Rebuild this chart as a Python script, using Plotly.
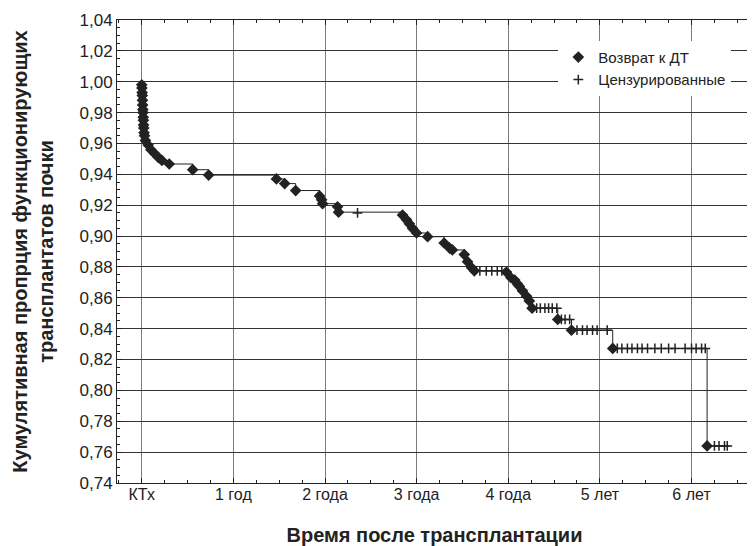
from plotly.graph_objects import Figure, Scatter

# время в годах после трансплантации и доля функционирующих трансплантатов
event_t = [0.000, 0.002, 0.004, 0.006, 0.008, 0.010, 0.012, 0.014, 0.016, 0.018,
           0.020, 0.022, 0.025, 0.030, 0.04, 0.07, 0.10, 0.14, 0.18, 0.22, 0.30,
           0.556, 0.73, 1.47, 1.56, 1.68, 1.94, 1.963, 1.974, 2.137, 2.148,
           2.846, 2.89, 2.92, 2.955, 3.00, 3.12, 3.30, 3.36, 3.39, 3.52, 3.555,
           3.60, 3.63, 3.98, 4.03, 4.07, 4.10, 4.12, 4.155, 4.20, 4.23, 4.26,
           4.54, 4.69, 5.14, 6.17]
event_s = [0.998, 0.996, 0.993, 0.991, 0.988, 0.985, 0.982, 0.980, 0.977, 0.975,
           0.972, 0.970, 0.967, 0.965, 0.962, 0.959, 0.956, 0.9535, 0.951, 0.949, 0.9467,
           0.943, 0.9395, 0.937, 0.934, 0.9295, 0.926, 0.9235, 0.921, 0.919, 0.9155,
           0.9136, 0.9105, 0.908, 0.905, 0.902, 0.8996, 0.8955, 0.8922, 0.891, 0.888, 0.8834,
           0.8795, 0.8775, 0.8767, 0.873, 0.8715, 0.869, 0.8675, 0.8645, 0.861, 0.858, 0.8533,
           0.846, 0.839, 0.8272, 0.764]

cens_t = [2.355, 3.69, 3.76, 3.82, 3.88, 3.93,
          4.31, 4.35, 4.40, 4.44, 4.48, 4.53, 4.58, 4.62, 4.67,
          4.75, 4.81, 4.86, 4.92, 4.97, 5.08,
          5.19, 5.24, 5.30, 5.35, 5.41, 5.46, 5.52, 5.60, 5.67, 5.75, 5.82,
          5.93, 6.00, 6.05, 6.11, 6.15, 6.25, 6.30, 6.36, 6.39]
cens_s = [0.915, 0.8775, 0.8775, 0.8775, 0.8775, 0.8775,
          0.8533, 0.8533, 0.8533, 0.8533, 0.8533, 0.8533, 0.846, 0.846, 0.846,
          0.839, 0.839, 0.839, 0.839, 0.839, 0.839,
          0.8272, 0.8272, 0.8272, 0.8272, 0.8272, 0.8272, 0.8272, 0.8272, 0.8272, 0.8272, 0.8272,
          0.8272, 0.8272, 0.8272, 0.8272, 0.8272, 0.764, 0.764, 0.764, 0.764]

x_ticks = [0, 1, 2, 3, 4, 5, 6]
x_labels = ['КТх', '1 год', '2 года', '3 года', '4 года', '5 лет', '6 лет']

FONT = 'Liberation Sans, Arial, sans-serif'
INK = '#222222'


def main():
    fig = Figure()
    # ступенчатая кривая Каплана-Мейера
    fig.add_trace(Scatter(
        x=[0] + event_t + [cens_t[-1]],
        y=[1.0] + event_s + [event_s[-1]],
        mode='lines',
        line=dict(color=INK, width=1, shape='hv'),
        showlegend=False,
        hoverinfo='skip'
    ))
    fig.add_trace(Scatter(
        x=event_t, y=event_s, mode='markers', name='Возврат к ДТ',
        marker=dict(symbol='diamond', size=9, color=INK)
    ))
    fig.add_trace(Scatter(
        x=cens_t, y=cens_s, mode='markers', name='Цензурированные',
        marker=dict(symbol='cross-thin', size=7, color=INK,
                    line=dict(color=INK, width=1.5))
    ))
    # страница добавляет 8 px отступа, поэтому поля уменьшены на столько же
    fig.update_layout(
        width=747, height=538,
        margin=dict(l=109, r=3, t=12, b=63),
        plot_bgcolor='white', paper_bgcolor='white',
        separators=',.',
        font=dict(family=FONT, color=INK, size=16),
        legend=dict(x=0.695, y=0.955, xanchor='left', yanchor='top',
                    bgcolor='white', borderwidth=0,
                    font=dict(size=15, family=FONT, color=INK),
                    itemwidth=30, tracegroupgap=0)
    )
    fig.update_xaxes(
        range=[-0.27, 6.66],
        tickvals=x_ticks, ticktext=x_labels,
        tickfont=dict(size=16),
        ticklabelstandoff=-3,
        showgrid=True, gridcolor='#7a7a7a', gridwidth=1,
        showline=True, linecolor=INK, linewidth=1, mirror='ticks',
        ticks='inside', ticklen=5, tickcolor=INK,
        minor=dict(dtick=0.25, tick0=0, ticks='inside', ticklen=3, tickcolor=INK, showgrid=False),
        zeroline=False,
        title=dict(text='<b>Время после трансплантации</b>', font=dict(size=20), standoff=26)
    )
    fig.update_yaxes(
        range=[0.74, 1.04],
        dtick=0.02, tick0=0.74, tickformat='.2f',
        tickfont=dict(size=17),
        showgrid=True, gridcolor='#333333', gridwidth=1,
        showline=True, linecolor=INK, linewidth=1, mirror='ticks',
        ticks='inside', ticklen=5, tickcolor=INK,
        minor=dict(dtick=0.005, tick0=0.74, ticks='inside', ticklen=3, tickcolor=INK, showgrid=False),
        zeroline=False,
        title=dict(text='<b>Кумулятивная пропрция функционирующих<br>трансплантатов почки</b>',
                   font=dict(size=20), standoff=20)
    )
    fig.write_html('out.html')


if __name__ == '__main__':
    main()
